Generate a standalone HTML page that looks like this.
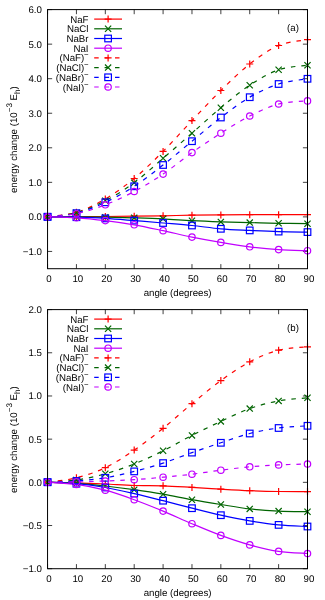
<!DOCTYPE html>
<html><head><meta charset="utf-8"><title>energy change vs angle</title>
<style>html,body{margin:0;padding:0;background:#fff}body{width:325px;height:600px;overflow:hidden;font-family:"Liberation Sans", sans-serif}svg{display:block;will-change:transform}text{text-rendering:geometricPrecision}</style>
</head><body>
<svg width="325" height="600" viewBox="0 0 325 600" font-family='"Liberation Sans", sans-serif' font-size="9.7" fill="#000">
<rect width="325" height="600" fill="#fff"/>
<g><path d="M47.55 251.43h4.6M307.50 251.43h-4.6M47.55 216.88h4.6M307.50 216.88h-4.6M47.55 182.33h4.6M307.50 182.33h-4.6M47.55 147.79h4.6M307.50 147.79h-4.6M47.55 113.24h4.6M307.50 113.24h-4.6M47.55 78.69h4.6M307.50 78.69h-4.6M47.55 44.15h4.6M307.50 44.15h-4.6M47.55 9.60h4.6M307.50 9.60h-4.6M47.55 268.70v-4.6M47.55 9.60v4.6M76.43 268.70v-4.6M76.43 9.60v4.6M105.32 268.70v-4.6M105.32 9.60v4.6M134.20 268.70v-4.6M134.20 9.60v4.6M163.08 268.70v-4.6M163.08 9.60v4.6M191.97 268.70v-4.6M191.97 9.60v4.6M220.85 268.70v-4.6M220.85 9.60v4.6M249.73 268.70v-4.6M249.73 9.60v4.6M278.62 268.70v-4.6M278.62 9.60v4.6M307.50 268.70v-4.6M307.50 9.60v4.6" stroke="#000" stroke-width="0.75" fill="none"/>
<text x="41.9" y="254.78" text-anchor="end">−1.0</text>
<text x="41.9" y="220.23" text-anchor="end">0.0</text>
<text x="41.9" y="185.68" text-anchor="end">1.0</text>
<text x="41.9" y="151.14" text-anchor="end">2.0</text>
<text x="41.9" y="116.59" text-anchor="end">3.0</text>
<text x="41.9" y="82.04" text-anchor="end">4.0</text>
<text x="41.9" y="47.50" text-anchor="end">5.0</text>
<text x="41.9" y="12.95" text-anchor="end">6.0</text>
<text x="48.95" y="282.10" text-anchor="middle">0</text>
<text x="77.83" y="282.10" text-anchor="middle">10</text>
<text x="106.72" y="282.10" text-anchor="middle">20</text>
<text x="135.60" y="282.10" text-anchor="middle">30</text>
<text x="164.48" y="282.10" text-anchor="middle">40</text>
<text x="193.37" y="282.10" text-anchor="middle">50</text>
<text x="222.25" y="282.10" text-anchor="middle">60</text>
<text x="251.13" y="282.10" text-anchor="middle">70</text>
<text x="280.02" y="282.10" text-anchor="middle">80</text>
<text x="308.90" y="282.10" text-anchor="middle">90</text>
<text x="177.6" y="296.10" text-anchor="middle">angle (degrees)</text>
<text transform="translate(16.8 139.65) rotate(-90)" text-anchor="middle">energy change (10<tspan font-size="8.1" dy="-5.0">−3</tspan><tspan dy="5.0"> E</tspan><tspan font-size="8.1" dy="3.1">h</tspan><tspan dy="-3.1">)</tspan></text>
<text x="293" y="30.80" text-anchor="middle">(a)</text>
<text x="88.5" y="22.65" text-anchor="end">NaF</text>
<path d="M94.2 19.10H122.0" stroke="#ff0000" stroke-width="1.2" fill="none"/>
<path d="M104.60 19.10H111.60M108.10 15.60V22.60" stroke="#ff0000" stroke-width="1.2" fill="none"/>
<text x="88.5" y="32.35" text-anchor="end">NaCl</text>
<path d="M94.2 28.80H122.0" stroke="#006400" stroke-width="1.2" fill="none"/>
<path d="M105.00 25.70L111.20 31.90M105.00 31.90L111.20 25.70" stroke="#006400" stroke-width="1.2" fill="none"/>
<text x="88.5" y="42.05" text-anchor="end">NaBr</text>
<path d="M94.2 38.50H122.0" stroke="#0000ff" stroke-width="1.2" fill="none"/>
<rect x="104.80" y="35.20" width="6.60" height="6.60" stroke="#0000ff" stroke-width="1.2" fill="none"/>
<text x="88.5" y="51.75" text-anchor="end">NaI</text>
<path d="M94.2 48.20H122.0" stroke="#c000ff" stroke-width="1.2" fill="none"/>
<circle cx="108.10" cy="48.20" r="3.2" stroke="#c000ff" stroke-width="1.2" fill="none"/>
<text x="84.2" y="61.45" text-anchor="end">(NaF)</text>
<text x="84.0" y="57.40" font-size="7.8">−</text>
<path d="M94.2 57.90H122.0" stroke="#ff0000" stroke-width="1.2" fill="none" stroke-dasharray="4.5 5.9"/>
<path d="M104.60 57.90H111.60M108.10 54.40V61.40" stroke="#ff0000" stroke-width="1.2" fill="none"/>
<text x="84.2" y="71.15" text-anchor="end">(NaCl)</text>
<text x="84.0" y="67.10" font-size="7.8">−</text>
<path d="M94.2 67.60H122.0" stroke="#006400" stroke-width="1.2" fill="none" stroke-dasharray="4.5 5.9"/>
<path d="M105.00 64.50L111.20 70.70M105.00 70.70L111.20 64.50" stroke="#006400" stroke-width="1.2" fill="none"/>
<text x="84.2" y="80.85" text-anchor="end">(NaBr)</text>
<text x="84.0" y="76.80" font-size="7.8">−</text>
<path d="M94.2 77.30H122.0" stroke="#0000ff" stroke-width="1.2" fill="none" stroke-dasharray="4.5 5.9"/>
<rect x="104.80" y="74.00" width="6.60" height="6.60" stroke="#0000ff" stroke-width="1.2" fill="none"/>
<text x="84.2" y="90.55" text-anchor="end">(NaI)</text>
<text x="84.0" y="86.50" font-size="7.8">−</text>
<path d="M94.2 87.00H122.0" stroke="#c000ff" stroke-width="1.2" fill="none" stroke-dasharray="4.5 5.9"/>
<circle cx="108.10" cy="87.00" r="3.2" stroke="#c000ff" stroke-width="1.2" fill="none"/>
<path d="M47.55 216.80C52.36 216.78 66.81 216.75 76.43 216.70C86.06 216.65 95.69 216.58 105.32 216.50C114.94 216.42 124.57 216.32 134.20 216.20C143.83 216.08 153.46 215.97 163.08 215.80C172.71 215.63 182.34 215.35 191.97 215.20C201.59 215.05 211.22 214.98 220.85 214.90C230.48 214.82 240.11 214.73 249.73 214.70C259.36 214.67 268.99 214.70 278.62 214.70C288.24 214.70 302.69 214.70 307.50 214.70" stroke="#ff0000" stroke-width="1.2" fill="none"/>
<path d="M44.05 216.80H51.05M47.55 213.30V220.30" stroke="#ff0000" stroke-width="1.2" fill="none"/>
<path d="M72.93 216.70H79.93M76.43 213.20V220.20" stroke="#ff0000" stroke-width="1.2" fill="none"/>
<path d="M101.82 216.50H108.82M105.32 213.00V220.00" stroke="#ff0000" stroke-width="1.2" fill="none"/>
<path d="M130.70 216.20H137.70M134.20 212.70V219.70" stroke="#ff0000" stroke-width="1.2" fill="none"/>
<path d="M159.58 215.80H166.58M163.08 212.30V219.30" stroke="#ff0000" stroke-width="1.2" fill="none"/>
<path d="M188.47 215.20H195.47M191.97 211.70V218.70" stroke="#ff0000" stroke-width="1.2" fill="none"/>
<path d="M217.35 214.90H224.35M220.85 211.40V218.40" stroke="#ff0000" stroke-width="1.2" fill="none"/>
<path d="M246.23 214.70H253.23M249.73 211.20V218.20" stroke="#ff0000" stroke-width="1.2" fill="none"/>
<path d="M275.12 214.70H282.12M278.62 211.20V218.20" stroke="#ff0000" stroke-width="1.2" fill="none"/>
<path d="M304.00 214.70H311.00M307.50 211.20V218.20" stroke="#ff0000" stroke-width="1.2" fill="none"/>
<path d="M47.55 216.80C52.36 216.82 66.81 216.83 76.43 216.90C86.06 216.97 95.69 217.05 105.32 217.20C114.94 217.35 124.57 217.53 134.20 217.80C143.83 218.07 153.46 218.32 163.08 218.80C172.71 219.28 182.34 220.18 191.97 220.70C201.59 221.22 211.22 221.58 220.85 221.90C230.48 222.22 240.11 222.37 249.73 222.60C259.36 222.83 268.99 223.12 278.62 223.30C288.24 223.48 302.69 223.63 307.50 223.70" stroke="#006400" stroke-width="1.2" fill="none"/>
<path d="M44.45 213.70L50.65 219.90M44.45 219.90L50.65 213.70" stroke="#006400" stroke-width="1.2" fill="none"/>
<path d="M73.33 213.80L79.53 220.00M73.33 220.00L79.53 213.80" stroke="#006400" stroke-width="1.2" fill="none"/>
<path d="M102.22 214.10L108.42 220.30M102.22 220.30L108.42 214.10" stroke="#006400" stroke-width="1.2" fill="none"/>
<path d="M131.10 214.70L137.30 220.90M131.10 220.90L137.30 214.70" stroke="#006400" stroke-width="1.2" fill="none"/>
<path d="M159.98 215.70L166.18 221.90M159.98 221.90L166.18 215.70" stroke="#006400" stroke-width="1.2" fill="none"/>
<path d="M188.87 217.60L195.07 223.80M188.87 223.80L195.07 217.60" stroke="#006400" stroke-width="1.2" fill="none"/>
<path d="M217.75 218.80L223.95 225.00M217.75 225.00L223.95 218.80" stroke="#006400" stroke-width="1.2" fill="none"/>
<path d="M246.63 219.50L252.83 225.70M246.63 225.70L252.83 219.50" stroke="#006400" stroke-width="1.2" fill="none"/>
<path d="M275.52 220.20L281.72 226.40M275.52 226.40L281.72 220.20" stroke="#006400" stroke-width="1.2" fill="none"/>
<path d="M304.40 220.60L310.60 226.80M304.40 226.80L310.60 220.60" stroke="#006400" stroke-width="1.2" fill="none"/>
<path d="M47.55 216.80C52.36 216.87 66.81 216.93 76.43 217.20C86.06 217.47 95.69 217.83 105.32 218.40C114.94 218.97 124.57 219.83 134.20 220.60C143.83 221.37 153.46 222.18 163.08 223.00C172.71 223.82 182.34 224.53 191.97 225.50C201.59 226.47 211.22 227.98 220.85 228.80C230.48 229.62 240.11 229.93 249.73 230.40C259.36 230.87 268.99 231.32 278.62 231.60C288.24 231.88 302.69 232.02 307.50 232.10" stroke="#0000ff" stroke-width="1.2" fill="none"/>
<rect x="44.25" y="213.50" width="6.60" height="6.60" stroke="#0000ff" stroke-width="1.2" fill="none"/>
<rect x="73.13" y="213.90" width="6.60" height="6.60" stroke="#0000ff" stroke-width="1.2" fill="none"/>
<rect x="102.02" y="215.10" width="6.60" height="6.60" stroke="#0000ff" stroke-width="1.2" fill="none"/>
<rect x="130.90" y="217.30" width="6.60" height="6.60" stroke="#0000ff" stroke-width="1.2" fill="none"/>
<rect x="159.78" y="219.70" width="6.60" height="6.60" stroke="#0000ff" stroke-width="1.2" fill="none"/>
<rect x="188.67" y="222.20" width="6.60" height="6.60" stroke="#0000ff" stroke-width="1.2" fill="none"/>
<rect x="217.55" y="225.50" width="6.60" height="6.60" stroke="#0000ff" stroke-width="1.2" fill="none"/>
<rect x="246.43" y="227.10" width="6.60" height="6.60" stroke="#0000ff" stroke-width="1.2" fill="none"/>
<rect x="275.32" y="228.30" width="6.60" height="6.60" stroke="#0000ff" stroke-width="1.2" fill="none"/>
<rect x="304.20" y="228.80" width="6.60" height="6.60" stroke="#0000ff" stroke-width="1.2" fill="none"/>
<path d="M47.55 216.80C52.36 216.97 66.81 217.17 76.43 217.80C86.06 218.43 95.69 219.43 105.32 220.60C114.94 221.77 124.57 223.12 134.20 224.80C143.83 226.48 153.46 228.65 163.08 230.70C172.71 232.75 182.34 235.15 191.97 237.10C201.59 239.05 211.22 240.78 220.85 242.40C230.48 244.02 240.11 245.60 249.73 246.80C259.36 248.00 268.99 248.95 278.62 249.60C288.24 250.25 302.69 250.52 307.50 250.70" stroke="#c000ff" stroke-width="1.2" fill="none"/>
<circle cx="47.55" cy="216.80" r="3.2" stroke="#c000ff" stroke-width="1.2" fill="none"/>
<circle cx="76.43" cy="217.80" r="3.2" stroke="#c000ff" stroke-width="1.2" fill="none"/>
<circle cx="105.32" cy="220.60" r="3.2" stroke="#c000ff" stroke-width="1.2" fill="none"/>
<circle cx="134.20" cy="224.80" r="3.2" stroke="#c000ff" stroke-width="1.2" fill="none"/>
<circle cx="163.08" cy="230.70" r="3.2" stroke="#c000ff" stroke-width="1.2" fill="none"/>
<circle cx="191.97" cy="237.10" r="3.2" stroke="#c000ff" stroke-width="1.2" fill="none"/>
<circle cx="220.85" cy="242.40" r="3.2" stroke="#c000ff" stroke-width="1.2" fill="none"/>
<circle cx="249.73" cy="246.80" r="3.2" stroke="#c000ff" stroke-width="1.2" fill="none"/>
<circle cx="278.62" cy="249.60" r="3.2" stroke="#c000ff" stroke-width="1.2" fill="none"/>
<circle cx="307.50" cy="250.70" r="3.2" stroke="#c000ff" stroke-width="1.2" fill="none"/>
<path d="M47.55 216.80C52.36 216.05 66.81 215.27 76.43 212.30C86.06 209.33 95.69 204.63 105.32 199.00C114.94 193.37 124.57 186.43 134.20 178.50C143.83 170.57 153.46 161.05 163.08 151.40C172.71 141.75 182.34 130.75 191.97 120.60C201.59 110.45 211.22 99.93 220.85 90.50C230.48 81.07 240.11 71.50 249.73 64.00C259.36 56.50 268.99 49.55 278.62 45.50C288.24 41.45 302.69 40.67 307.50 39.70" stroke="#ff0000" stroke-width="1.2" fill="none" stroke-dasharray="4.5 5.9"/>
<path d="M44.05 216.80H51.05M47.55 213.30V220.30" stroke="#ff0000" stroke-width="1.2" fill="none"/>
<path d="M72.93 212.30H79.93M76.43 208.80V215.80" stroke="#ff0000" stroke-width="1.2" fill="none"/>
<path d="M101.82 199.00H108.82M105.32 195.50V202.50" stroke="#ff0000" stroke-width="1.2" fill="none"/>
<path d="M130.70 178.50H137.70M134.20 175.00V182.00" stroke="#ff0000" stroke-width="1.2" fill="none"/>
<path d="M159.58 151.40H166.58M163.08 147.90V154.90" stroke="#ff0000" stroke-width="1.2" fill="none"/>
<path d="M188.47 120.60H195.47M191.97 117.10V124.10" stroke="#ff0000" stroke-width="1.2" fill="none"/>
<path d="M217.35 90.50H224.35M220.85 87.00V94.00" stroke="#ff0000" stroke-width="1.2" fill="none"/>
<path d="M246.23 64.00H253.23M249.73 60.50V67.50" stroke="#ff0000" stroke-width="1.2" fill="none"/>
<path d="M275.12 45.50H282.12M278.62 42.00V49.00" stroke="#ff0000" stroke-width="1.2" fill="none"/>
<path d="M304.00 39.70H311.00M307.50 36.20V43.20" stroke="#ff0000" stroke-width="1.2" fill="none"/>
<path d="M47.55 216.80C52.36 216.12 66.81 215.38 76.43 212.70C86.06 210.02 95.69 205.70 105.32 200.70C114.94 195.70 124.57 189.77 134.20 182.70C143.83 175.63 153.46 166.55 163.08 158.30C172.71 150.05 182.34 141.63 191.97 133.20C201.59 124.77 211.22 115.70 220.85 107.70C230.48 99.70 240.11 91.52 249.73 85.20C259.36 78.88 268.99 73.13 278.62 69.80C288.24 66.47 302.69 65.97 307.50 65.20" stroke="#006400" stroke-width="1.2" fill="none" stroke-dasharray="4.5 5.9"/>
<path d="M44.45 213.70L50.65 219.90M44.45 219.90L50.65 213.70" stroke="#006400" stroke-width="1.2" fill="none"/>
<path d="M73.33 209.60L79.53 215.80M73.33 215.80L79.53 209.60" stroke="#006400" stroke-width="1.2" fill="none"/>
<path d="M102.22 197.60L108.42 203.80M102.22 203.80L108.42 197.60" stroke="#006400" stroke-width="1.2" fill="none"/>
<path d="M131.10 179.60L137.30 185.80M131.10 185.80L137.30 179.60" stroke="#006400" stroke-width="1.2" fill="none"/>
<path d="M159.98 155.20L166.18 161.40M159.98 161.40L166.18 155.20" stroke="#006400" stroke-width="1.2" fill="none"/>
<path d="M188.87 130.10L195.07 136.30M188.87 136.30L195.07 130.10" stroke="#006400" stroke-width="1.2" fill="none"/>
<path d="M217.75 104.60L223.95 110.80M217.75 110.80L223.95 104.60" stroke="#006400" stroke-width="1.2" fill="none"/>
<path d="M246.63 82.10L252.83 88.30M246.63 88.30L252.83 82.10" stroke="#006400" stroke-width="1.2" fill="none"/>
<path d="M275.52 66.70L281.72 72.90M275.52 72.90L281.72 66.70" stroke="#006400" stroke-width="1.2" fill="none"/>
<path d="M304.40 62.10L310.60 68.30M304.40 68.30L310.60 62.10" stroke="#006400" stroke-width="1.2" fill="none"/>
<path d="M47.55 216.80C52.36 216.20 66.81 215.62 76.43 213.20C86.06 210.78 95.69 206.78 105.32 202.30C114.94 197.82 124.57 192.52 134.20 186.30C143.83 180.08 153.46 172.52 163.08 165.00C172.71 157.48 182.34 149.12 191.97 141.20C201.59 133.28 211.22 124.83 220.85 117.50C230.48 110.17 240.11 102.78 249.73 97.20C259.36 91.62 268.99 87.07 278.62 84.00C288.24 80.93 302.69 79.67 307.50 78.80" stroke="#0000ff" stroke-width="1.2" fill="none" stroke-dasharray="4.5 5.9"/>
<rect x="44.25" y="213.50" width="6.60" height="6.60" stroke="#0000ff" stroke-width="1.2" fill="none"/>
<rect x="73.13" y="209.90" width="6.60" height="6.60" stroke="#0000ff" stroke-width="1.2" fill="none"/>
<rect x="102.02" y="199.00" width="6.60" height="6.60" stroke="#0000ff" stroke-width="1.2" fill="none"/>
<rect x="130.90" y="183.00" width="6.60" height="6.60" stroke="#0000ff" stroke-width="1.2" fill="none"/>
<rect x="159.78" y="161.70" width="6.60" height="6.60" stroke="#0000ff" stroke-width="1.2" fill="none"/>
<rect x="188.67" y="137.90" width="6.60" height="6.60" stroke="#0000ff" stroke-width="1.2" fill="none"/>
<rect x="217.55" y="114.20" width="6.60" height="6.60" stroke="#0000ff" stroke-width="1.2" fill="none"/>
<rect x="246.43" y="93.90" width="6.60" height="6.60" stroke="#0000ff" stroke-width="1.2" fill="none"/>
<rect x="275.32" y="80.70" width="6.60" height="6.60" stroke="#0000ff" stroke-width="1.2" fill="none"/>
<rect x="304.20" y="75.50" width="6.60" height="6.60" stroke="#0000ff" stroke-width="1.2" fill="none"/>
<path d="M47.55 216.80C52.36 216.28 66.81 215.70 76.43 213.70C86.06 211.70 95.69 208.50 105.32 204.80C114.94 201.10 124.57 196.62 134.20 191.50C143.83 186.38 153.46 180.58 163.08 174.10C172.71 167.62 182.34 159.42 191.97 152.60C201.59 145.78 211.22 139.30 220.85 133.20C230.48 127.10 240.11 120.87 249.73 116.00C259.36 111.13 268.99 106.52 278.62 104.00C288.24 101.48 302.69 101.42 307.50 100.90" stroke="#c000ff" stroke-width="1.2" fill="none" stroke-dasharray="4.5 5.9"/>
<circle cx="47.55" cy="216.80" r="3.2" stroke="#c000ff" stroke-width="1.2" fill="none"/>
<circle cx="76.43" cy="213.70" r="3.2" stroke="#c000ff" stroke-width="1.2" fill="none"/>
<circle cx="105.32" cy="204.80" r="3.2" stroke="#c000ff" stroke-width="1.2" fill="none"/>
<circle cx="134.20" cy="191.50" r="3.2" stroke="#c000ff" stroke-width="1.2" fill="none"/>
<circle cx="163.08" cy="174.10" r="3.2" stroke="#c000ff" stroke-width="1.2" fill="none"/>
<circle cx="191.97" cy="152.60" r="3.2" stroke="#c000ff" stroke-width="1.2" fill="none"/>
<circle cx="220.85" cy="133.20" r="3.2" stroke="#c000ff" stroke-width="1.2" fill="none"/>
<circle cx="249.73" cy="116.00" r="3.2" stroke="#c000ff" stroke-width="1.2" fill="none"/>
<circle cx="278.62" cy="104.00" r="3.2" stroke="#c000ff" stroke-width="1.2" fill="none"/>
<circle cx="307.50" cy="100.90" r="3.2" stroke="#c000ff" stroke-width="1.2" fill="none"/>
<rect x="47.55" y="9.6" width="259.95" height="259.10" stroke="#000" stroke-width="1.0" fill="none"/></g>
<g><path d="M47.55 568.70h4.6M307.50 568.70h-4.6M47.55 525.52h4.6M307.50 525.52h-4.6M47.55 482.33h4.6M307.50 482.33h-4.6M47.55 439.15h4.6M307.50 439.15h-4.6M47.55 395.97h4.6M307.50 395.97h-4.6M47.55 352.78h4.6M307.50 352.78h-4.6M47.55 309.60h4.6M307.50 309.60h-4.6M47.55 568.70v-4.6M47.55 309.60v4.6M76.43 568.70v-4.6M76.43 309.60v4.6M105.32 568.70v-4.6M105.32 309.60v4.6M134.20 568.70v-4.6M134.20 309.60v4.6M163.08 568.70v-4.6M163.08 309.60v4.6M191.97 568.70v-4.6M191.97 309.60v4.6M220.85 568.70v-4.6M220.85 309.60v4.6M249.73 568.70v-4.6M249.73 309.60v4.6M278.62 568.70v-4.6M278.62 309.60v4.6M307.50 568.70v-4.6M307.50 309.60v4.6" stroke="#000" stroke-width="0.75" fill="none"/>
<text x="41.9" y="572.05" text-anchor="end">−1.0</text>
<text x="41.9" y="528.87" text-anchor="end">−0.5</text>
<text x="41.9" y="485.68" text-anchor="end">0.0</text>
<text x="41.9" y="442.50" text-anchor="end">0.5</text>
<text x="41.9" y="399.32" text-anchor="end">1.0</text>
<text x="41.9" y="356.13" text-anchor="end">1.5</text>
<text x="41.9" y="312.95" text-anchor="end">2.0</text>
<text x="48.95" y="582.10" text-anchor="middle">0</text>
<text x="77.83" y="582.10" text-anchor="middle">10</text>
<text x="106.72" y="582.10" text-anchor="middle">20</text>
<text x="135.60" y="582.10" text-anchor="middle">30</text>
<text x="164.48" y="582.10" text-anchor="middle">40</text>
<text x="193.37" y="582.10" text-anchor="middle">50</text>
<text x="222.25" y="582.10" text-anchor="middle">60</text>
<text x="251.13" y="582.10" text-anchor="middle">70</text>
<text x="280.02" y="582.10" text-anchor="middle">80</text>
<text x="308.90" y="582.10" text-anchor="middle">90</text>
<text x="177.6" y="596.10" text-anchor="middle">angle (degrees)</text>
<text transform="translate(16.8 439.65) rotate(-90)" text-anchor="middle">energy change (10<tspan font-size="8.1" dy="-5.0">−3</tspan><tspan dy="5.0"> E</tspan><tspan font-size="8.1" dy="3.1">h</tspan><tspan dy="-3.1">)</tspan></text>
<text x="293" y="330.80" text-anchor="middle">(b)</text>
<text x="88.5" y="322.65" text-anchor="end">NaF</text>
<path d="M94.2 319.10H122.0" stroke="#ff0000" stroke-width="1.2" fill="none"/>
<path d="M104.60 319.10H111.60M108.10 315.60V322.60" stroke="#ff0000" stroke-width="1.2" fill="none"/>
<text x="88.5" y="332.35" text-anchor="end">NaCl</text>
<path d="M94.2 328.80H122.0" stroke="#006400" stroke-width="1.2" fill="none"/>
<path d="M105.00 325.70L111.20 331.90M105.00 331.90L111.20 325.70" stroke="#006400" stroke-width="1.2" fill="none"/>
<text x="88.5" y="342.05" text-anchor="end">NaBr</text>
<path d="M94.2 338.50H122.0" stroke="#0000ff" stroke-width="1.2" fill="none"/>
<rect x="104.80" y="335.20" width="6.60" height="6.60" stroke="#0000ff" stroke-width="1.2" fill="none"/>
<text x="88.5" y="351.75" text-anchor="end">NaI</text>
<path d="M94.2 348.20H122.0" stroke="#c000ff" stroke-width="1.2" fill="none"/>
<circle cx="108.10" cy="348.20" r="3.2" stroke="#c000ff" stroke-width="1.2" fill="none"/>
<text x="84.2" y="361.45" text-anchor="end">(NaF)</text>
<text x="84.0" y="357.40" font-size="7.8">−</text>
<path d="M94.2 357.90H122.0" stroke="#ff0000" stroke-width="1.2" fill="none" stroke-dasharray="4.5 5.9"/>
<path d="M104.60 357.90H111.60M108.10 354.40V361.40" stroke="#ff0000" stroke-width="1.2" fill="none"/>
<text x="84.2" y="371.15" text-anchor="end">(NaCl)</text>
<text x="84.0" y="367.10" font-size="7.8">−</text>
<path d="M94.2 367.60H122.0" stroke="#006400" stroke-width="1.2" fill="none" stroke-dasharray="4.5 5.9"/>
<path d="M105.00 364.50L111.20 370.70M105.00 370.70L111.20 364.50" stroke="#006400" stroke-width="1.2" fill="none"/>
<text x="84.2" y="380.85" text-anchor="end">(NaBr)</text>
<text x="84.0" y="376.80" font-size="7.8">−</text>
<path d="M94.2 377.30H122.0" stroke="#0000ff" stroke-width="1.2" fill="none" stroke-dasharray="4.5 5.9"/>
<rect x="104.80" y="374.00" width="6.60" height="6.60" stroke="#0000ff" stroke-width="1.2" fill="none"/>
<text x="84.2" y="390.55" text-anchor="end">(NaI)</text>
<text x="84.0" y="386.50" font-size="7.8">−</text>
<path d="M94.2 387.00H122.0" stroke="#c000ff" stroke-width="1.2" fill="none" stroke-dasharray="4.5 5.9"/>
<circle cx="108.10" cy="387.00" r="3.2" stroke="#c000ff" stroke-width="1.2" fill="none"/>
<path d="M47.55 482.20C52.36 482.30 66.81 482.50 76.43 482.80C86.06 483.10 95.69 483.55 105.32 484.00C114.94 484.45 124.57 485.20 134.20 485.50C143.83 485.80 153.46 485.48 163.08 485.80C172.71 486.12 182.34 486.83 191.97 487.40C201.59 487.97 211.22 488.65 220.85 489.20C230.48 489.75 240.11 490.32 249.73 490.70C259.36 491.08 268.99 491.35 278.62 491.50C288.24 491.65 302.69 491.58 307.50 491.60" stroke="#ff0000" stroke-width="1.2" fill="none"/>
<path d="M44.05 482.20H51.05M47.55 478.70V485.70" stroke="#ff0000" stroke-width="1.2" fill="none"/>
<path d="M72.93 482.80H79.93M76.43 479.30V486.30" stroke="#ff0000" stroke-width="1.2" fill="none"/>
<path d="M101.82 484.00H108.82M105.32 480.50V487.50" stroke="#ff0000" stroke-width="1.2" fill="none"/>
<path d="M130.70 485.50H137.70M134.20 482.00V489.00" stroke="#ff0000" stroke-width="1.2" fill="none"/>
<path d="M159.58 485.80H166.58M163.08 482.30V489.30" stroke="#ff0000" stroke-width="1.2" fill="none"/>
<path d="M188.47 487.40H195.47M191.97 483.90V490.90" stroke="#ff0000" stroke-width="1.2" fill="none"/>
<path d="M217.35 489.20H224.35M220.85 485.70V492.70" stroke="#ff0000" stroke-width="1.2" fill="none"/>
<path d="M246.23 490.70H253.23M249.73 487.20V494.20" stroke="#ff0000" stroke-width="1.2" fill="none"/>
<path d="M275.12 491.50H282.12M278.62 488.00V495.00" stroke="#ff0000" stroke-width="1.2" fill="none"/>
<path d="M304.00 491.60H311.00M307.50 488.10V495.10" stroke="#ff0000" stroke-width="1.2" fill="none"/>
<path d="M47.55 482.20C52.36 482.38 66.81 482.67 76.43 483.30C86.06 483.93 95.69 484.93 105.32 486.00C114.94 487.07 124.57 488.33 134.20 489.70C143.83 491.07 153.46 492.53 163.08 494.20C172.71 495.87 182.34 497.98 191.97 499.70C201.59 501.42 211.22 502.97 220.85 504.50C230.48 506.03 240.11 507.80 249.73 508.90C259.36 510.00 268.99 510.63 278.62 511.10C288.24 511.57 302.69 511.60 307.50 511.70" stroke="#006400" stroke-width="1.2" fill="none"/>
<path d="M44.45 479.10L50.65 485.30M44.45 485.30L50.65 479.10" stroke="#006400" stroke-width="1.2" fill="none"/>
<path d="M73.33 480.20L79.53 486.40M73.33 486.40L79.53 480.20" stroke="#006400" stroke-width="1.2" fill="none"/>
<path d="M102.22 482.90L108.42 489.10M102.22 489.10L108.42 482.90" stroke="#006400" stroke-width="1.2" fill="none"/>
<path d="M131.10 486.60L137.30 492.80M131.10 492.80L137.30 486.60" stroke="#006400" stroke-width="1.2" fill="none"/>
<path d="M159.98 491.10L166.18 497.30M159.98 497.30L166.18 491.10" stroke="#006400" stroke-width="1.2" fill="none"/>
<path d="M188.87 496.60L195.07 502.80M188.87 502.80L195.07 496.60" stroke="#006400" stroke-width="1.2" fill="none"/>
<path d="M217.75 501.40L223.95 507.60M217.75 507.60L223.95 501.40" stroke="#006400" stroke-width="1.2" fill="none"/>
<path d="M246.63 505.80L252.83 512.00M246.63 512.00L252.83 505.80" stroke="#006400" stroke-width="1.2" fill="none"/>
<path d="M275.52 508.00L281.72 514.20M275.52 514.20L281.72 508.00" stroke="#006400" stroke-width="1.2" fill="none"/>
<path d="M304.40 508.60L310.60 514.80M304.40 514.80L310.60 508.60" stroke="#006400" stroke-width="1.2" fill="none"/>
<path d="M47.55 482.20C52.36 482.45 66.81 482.82 76.43 483.70C86.06 484.58 95.69 485.85 105.32 487.50C114.94 489.15 124.57 491.40 134.20 493.60C143.83 495.80 153.46 498.27 163.08 500.70C172.71 503.13 182.34 505.78 191.97 508.20C201.59 510.62 211.22 513.08 220.85 515.20C230.48 517.32 240.11 519.28 249.73 520.90C259.36 522.52 268.99 523.97 278.62 524.90C288.24 525.83 302.69 526.23 307.50 526.50" stroke="#0000ff" stroke-width="1.2" fill="none"/>
<rect x="44.25" y="478.90" width="6.60" height="6.60" stroke="#0000ff" stroke-width="1.2" fill="none"/>
<rect x="73.13" y="480.40" width="6.60" height="6.60" stroke="#0000ff" stroke-width="1.2" fill="none"/>
<rect x="102.02" y="484.20" width="6.60" height="6.60" stroke="#0000ff" stroke-width="1.2" fill="none"/>
<rect x="130.90" y="490.30" width="6.60" height="6.60" stroke="#0000ff" stroke-width="1.2" fill="none"/>
<rect x="159.78" y="497.40" width="6.60" height="6.60" stroke="#0000ff" stroke-width="1.2" fill="none"/>
<rect x="188.67" y="504.90" width="6.60" height="6.60" stroke="#0000ff" stroke-width="1.2" fill="none"/>
<rect x="217.55" y="511.90" width="6.60" height="6.60" stroke="#0000ff" stroke-width="1.2" fill="none"/>
<rect x="246.43" y="517.60" width="6.60" height="6.60" stroke="#0000ff" stroke-width="1.2" fill="none"/>
<rect x="275.32" y="521.60" width="6.60" height="6.60" stroke="#0000ff" stroke-width="1.2" fill="none"/>
<rect x="304.20" y="523.20" width="6.60" height="6.60" stroke="#0000ff" stroke-width="1.2" fill="none"/>
<path d="M47.55 482.20C52.36 482.57 66.81 483.07 76.43 484.40C86.06 485.73 95.69 487.65 105.32 490.20C114.94 492.75 124.57 496.22 134.20 499.70C143.83 503.18 153.46 507.10 163.08 511.10C172.71 515.10 182.34 519.65 191.97 523.70C201.59 527.75 211.22 531.87 220.85 535.40C230.48 538.93 240.11 542.23 249.73 544.90C259.36 547.57 268.99 549.97 278.62 551.40C288.24 552.83 302.69 553.15 307.50 553.50" stroke="#c000ff" stroke-width="1.2" fill="none"/>
<circle cx="47.55" cy="482.20" r="3.2" stroke="#c000ff" stroke-width="1.2" fill="none"/>
<circle cx="76.43" cy="484.40" r="3.2" stroke="#c000ff" stroke-width="1.2" fill="none"/>
<circle cx="105.32" cy="490.20" r="3.2" stroke="#c000ff" stroke-width="1.2" fill="none"/>
<circle cx="134.20" cy="499.70" r="3.2" stroke="#c000ff" stroke-width="1.2" fill="none"/>
<circle cx="163.08" cy="511.10" r="3.2" stroke="#c000ff" stroke-width="1.2" fill="none"/>
<circle cx="191.97" cy="523.70" r="3.2" stroke="#c000ff" stroke-width="1.2" fill="none"/>
<circle cx="220.85" cy="535.40" r="3.2" stroke="#c000ff" stroke-width="1.2" fill="none"/>
<circle cx="249.73" cy="544.90" r="3.2" stroke="#c000ff" stroke-width="1.2" fill="none"/>
<circle cx="278.62" cy="551.40" r="3.2" stroke="#c000ff" stroke-width="1.2" fill="none"/>
<circle cx="307.50" cy="553.50" r="3.2" stroke="#c000ff" stroke-width="1.2" fill="none"/>
<path d="M47.55 482.20C52.36 481.47 66.81 480.22 76.43 477.80C86.06 475.38 95.69 472.32 105.32 467.70C114.94 463.08 124.57 456.67 134.20 450.10C143.83 443.53 153.46 436.03 163.08 428.30C172.71 420.57 182.34 411.65 191.97 403.70C201.59 395.75 211.22 387.58 220.85 380.60C230.48 373.62 240.11 366.87 249.73 361.80C259.36 356.73 268.99 352.70 278.62 350.20C288.24 347.70 302.69 347.37 307.50 346.80" stroke="#ff0000" stroke-width="1.2" fill="none" stroke-dasharray="4.5 5.9"/>
<path d="M44.05 482.20H51.05M47.55 478.70V485.70" stroke="#ff0000" stroke-width="1.2" fill="none"/>
<path d="M72.93 477.80H79.93M76.43 474.30V481.30" stroke="#ff0000" stroke-width="1.2" fill="none"/>
<path d="M101.82 467.70H108.82M105.32 464.20V471.20" stroke="#ff0000" stroke-width="1.2" fill="none"/>
<path d="M130.70 450.10H137.70M134.20 446.60V453.60" stroke="#ff0000" stroke-width="1.2" fill="none"/>
<path d="M159.58 428.30H166.58M163.08 424.80V431.80" stroke="#ff0000" stroke-width="1.2" fill="none"/>
<path d="M188.47 403.70H195.47M191.97 400.20V407.20" stroke="#ff0000" stroke-width="1.2" fill="none"/>
<path d="M217.35 380.60H224.35M220.85 377.10V384.10" stroke="#ff0000" stroke-width="1.2" fill="none"/>
<path d="M246.23 361.80H253.23M249.73 358.30V365.30" stroke="#ff0000" stroke-width="1.2" fill="none"/>
<path d="M275.12 350.20H282.12M278.62 346.70V353.70" stroke="#ff0000" stroke-width="1.2" fill="none"/>
<path d="M304.00 346.80H311.00M307.50 343.30V350.30" stroke="#ff0000" stroke-width="1.2" fill="none"/>
<path d="M47.55 482.20C52.36 481.83 66.81 481.40 76.43 480.00C86.06 478.60 95.69 476.47 105.32 473.80C114.94 471.13 124.57 467.83 134.20 464.00C143.83 460.17 153.46 455.57 163.08 450.80C172.71 446.03 182.34 440.30 191.97 435.40C201.59 430.50 211.22 425.87 220.85 421.40C230.48 416.93 240.11 412.02 249.73 408.60C259.36 405.18 268.99 402.70 278.62 400.90C288.24 399.10 302.69 398.32 307.50 397.80" stroke="#006400" stroke-width="1.2" fill="none" stroke-dasharray="4.5 5.9"/>
<path d="M44.45 479.10L50.65 485.30M44.45 485.30L50.65 479.10" stroke="#006400" stroke-width="1.2" fill="none"/>
<path d="M73.33 476.90L79.53 483.10M73.33 483.10L79.53 476.90" stroke="#006400" stroke-width="1.2" fill="none"/>
<path d="M102.22 470.70L108.42 476.90M102.22 476.90L108.42 470.70" stroke="#006400" stroke-width="1.2" fill="none"/>
<path d="M131.10 460.90L137.30 467.10M131.10 467.10L137.30 460.90" stroke="#006400" stroke-width="1.2" fill="none"/>
<path d="M159.98 447.70L166.18 453.90M159.98 453.90L166.18 447.70" stroke="#006400" stroke-width="1.2" fill="none"/>
<path d="M188.87 432.30L195.07 438.50M188.87 438.50L195.07 432.30" stroke="#006400" stroke-width="1.2" fill="none"/>
<path d="M217.75 418.30L223.95 424.50M217.75 424.50L223.95 418.30" stroke="#006400" stroke-width="1.2" fill="none"/>
<path d="M246.63 405.50L252.83 411.70M246.63 411.70L252.83 405.50" stroke="#006400" stroke-width="1.2" fill="none"/>
<path d="M275.52 397.80L281.72 404.00M275.52 404.00L281.72 397.80" stroke="#006400" stroke-width="1.2" fill="none"/>
<path d="M304.40 394.70L310.60 400.90M304.40 400.90L310.60 394.70" stroke="#006400" stroke-width="1.2" fill="none"/>
<path d="M47.55 482.20C52.36 482.00 66.81 481.73 76.43 481.00C86.06 480.27 95.69 479.40 105.32 477.80C114.94 476.20 124.57 473.85 134.20 471.40C143.83 468.95 153.46 466.23 163.08 463.10C172.71 459.97 182.34 455.98 191.97 452.60C201.59 449.22 211.22 445.98 220.85 442.80C230.48 439.62 240.11 435.97 249.73 433.50C259.36 431.03 268.99 429.28 278.62 428.00C288.24 426.72 302.69 426.17 307.50 425.80" stroke="#0000ff" stroke-width="1.2" fill="none" stroke-dasharray="4.5 5.9"/>
<rect x="44.25" y="478.90" width="6.60" height="6.60" stroke="#0000ff" stroke-width="1.2" fill="none"/>
<rect x="73.13" y="477.70" width="6.60" height="6.60" stroke="#0000ff" stroke-width="1.2" fill="none"/>
<rect x="102.02" y="474.50" width="6.60" height="6.60" stroke="#0000ff" stroke-width="1.2" fill="none"/>
<rect x="130.90" y="468.10" width="6.60" height="6.60" stroke="#0000ff" stroke-width="1.2" fill="none"/>
<rect x="159.78" y="459.80" width="6.60" height="6.60" stroke="#0000ff" stroke-width="1.2" fill="none"/>
<rect x="188.67" y="449.30" width="6.60" height="6.60" stroke="#0000ff" stroke-width="1.2" fill="none"/>
<rect x="217.55" y="439.50" width="6.60" height="6.60" stroke="#0000ff" stroke-width="1.2" fill="none"/>
<rect x="246.43" y="430.20" width="6.60" height="6.60" stroke="#0000ff" stroke-width="1.2" fill="none"/>
<rect x="275.32" y="424.70" width="6.60" height="6.60" stroke="#0000ff" stroke-width="1.2" fill="none"/>
<rect x="304.20" y="422.50" width="6.60" height="6.60" stroke="#0000ff" stroke-width="1.2" fill="none"/>
<path d="M47.55 482.20C52.36 482.15 66.81 482.10 76.43 481.90C86.06 481.70 95.69 481.37 105.32 481.00C114.94 480.63 124.57 480.33 134.20 479.70C143.83 479.07 153.46 478.12 163.08 477.20C172.71 476.28 182.34 475.37 191.97 474.20C201.59 473.03 211.22 471.43 220.85 470.20C230.48 468.97 240.11 467.68 249.73 466.80C259.36 465.92 268.99 465.37 278.62 464.90C288.24 464.43 302.69 464.15 307.50 464.00" stroke="#c000ff" stroke-width="1.2" fill="none" stroke-dasharray="4.5 5.9"/>
<circle cx="47.55" cy="482.20" r="3.2" stroke="#c000ff" stroke-width="1.2" fill="none"/>
<circle cx="76.43" cy="481.90" r="3.2" stroke="#c000ff" stroke-width="1.2" fill="none"/>
<circle cx="105.32" cy="481.00" r="3.2" stroke="#c000ff" stroke-width="1.2" fill="none"/>
<circle cx="134.20" cy="479.70" r="3.2" stroke="#c000ff" stroke-width="1.2" fill="none"/>
<circle cx="163.08" cy="477.20" r="3.2" stroke="#c000ff" stroke-width="1.2" fill="none"/>
<circle cx="191.97" cy="474.20" r="3.2" stroke="#c000ff" stroke-width="1.2" fill="none"/>
<circle cx="220.85" cy="470.20" r="3.2" stroke="#c000ff" stroke-width="1.2" fill="none"/>
<circle cx="249.73" cy="466.80" r="3.2" stroke="#c000ff" stroke-width="1.2" fill="none"/>
<circle cx="278.62" cy="464.90" r="3.2" stroke="#c000ff" stroke-width="1.2" fill="none"/>
<circle cx="307.50" cy="464.00" r="3.2" stroke="#c000ff" stroke-width="1.2" fill="none"/>
<rect x="47.55" y="309.6" width="259.95" height="259.10" stroke="#000" stroke-width="1.0" fill="none"/></g>
</svg>
</body></html>
